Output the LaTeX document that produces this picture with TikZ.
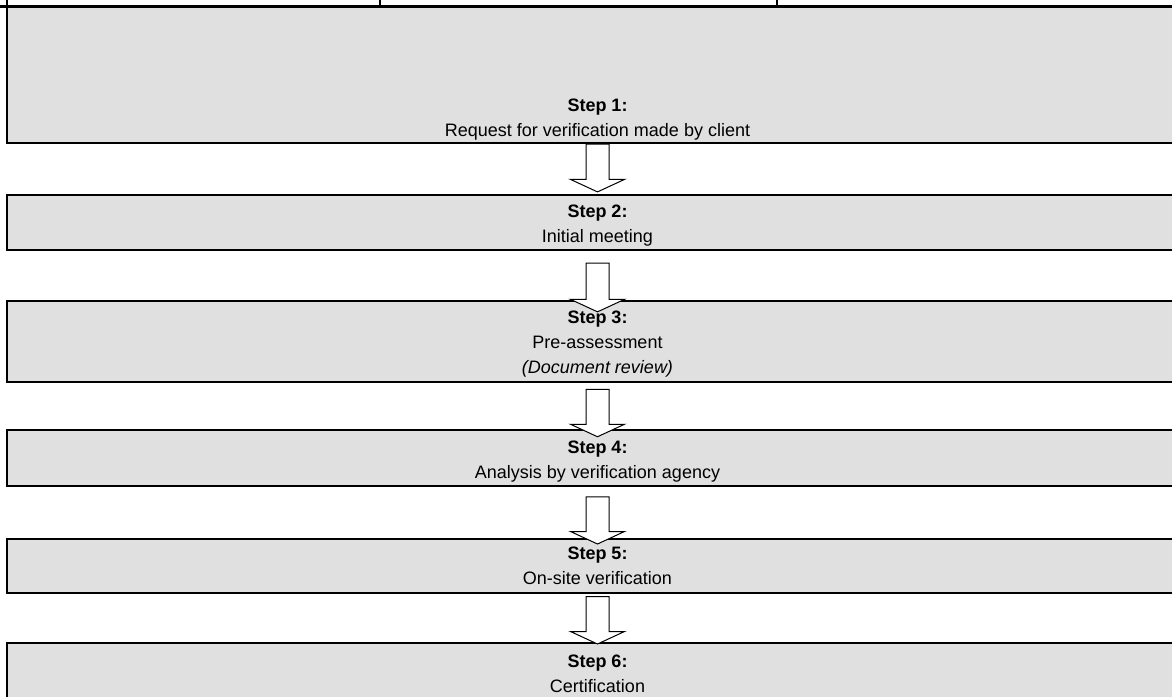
\documentclass[tikz,border=0pt]{standalone}
\usepackage{fontspec}
\setmainfont{Liberation Sans}
\usetikzlibrary{calc}
\definecolor{boxgray}{HTML}{E0E0E0}
\newcommand\blkarrow[2]{%
  \draw[barrow] ($(#1)+(-11.5,0)$) -- ($(#2)+(-11.5,-12.5)$) -- ($(#2)+(-27,-12.5)$)
    -- (#2) -- ($(#2)+(27,-12.5)$) -- ($(#2)+(11.5,-12.5)$) -- ($(#1)+(11.5,0)$) -- cycle;}
\begin{document}
\begin{tikzpicture}[x=1pt,y=-1pt,
  box/.style={draw=black,line width=2pt,fill=boxgray,rectangle,inner sep=0pt,outer sep=0pt,minimum width=1181pt},
  ln/.style={anchor=base,inner sep=0pt,font=\fontsize{18}{22}\selectfont},
  bl/.style={ln,font=\fontsize{18}{22}\selectfont\bfseries},
  barrow/.style={draw=black,line width=1pt,fill=white,line join=miter}]
\useasboundingbox (0,0) rectangle (1172,696);
\fill[white] (0,0) rectangle (1172,696);
% boxes
\node[box,minimum height=136.2pt] (s1) at (597.5,74.6) {};
\node[box,minimum height=54.4pt] (s2) at (597.5,222.5) {};
\node[box,minimum height=80.5pt] (s3) at (597.5,341.5) {};
\node[box,minimum height=55.7pt] (s4) at (597.5,458.2) {};
\node[box,minimum height=54pt] (s5) at (597.5,565.7) {};
\node[box,minimum height=58pt] (s6) at (597.5,671.7) {};
% table fragment on top
\coordinate (tl) at (0,6.5);
\coordinate (tr) at (1172,6.5);
\draw[line width=3pt] (tl) -- (tr);
\draw[line width=2pt] (s1.north west) -- ++(0,-7);
\draw[line width=2pt] (380,6.5) coordinate (v1) -- (380,0) coordinate (v1t);
\draw[line width=2pt] (776.5,6.5) coordinate (v2) -- (776.5,0) coordinate (v2t);
% arrows
\coordinate (a1s) at ($(s1.south)+(0,1.3)$);  \coordinate (a1e) at ($(s2.north)+(0,-3.4)$);
\coordinate (a2s) at ($(s2.south)+(0,13.3)$); \coordinate (a2e) at ($(s3.north)+(0,10.6)$);
\coordinate (a3s) at ($(s3.south)+(0,7.6)$);  \coordinate (a3e) at ($(s4.north)+(0,6.4)$);
\coordinate (a4s) at ($(s4.south)+(0,10.7)$); \coordinate (a4e) at ($(s5.north)+(0,5.3)$);
\coordinate (a5s) at ($(s5.south)+(0,4)$);    \coordinate (a5e) at ($(s6.north)+(0,1.3)$);
\blkarrow{a1s}{a1e}
\blkarrow{a2s}{a2e}
\blkarrow{a3s}{a3e}
\blkarrow{a4s}{a4e}
\blkarrow{a5s}{a5e}
% texts
\node[bl] (t1a) at (597.5,111) {Step 1:};
\node[ln] (t1b) at (597.5,136) {Request for verification made by client};
\node[bl] (t2a) at (597.5,217) {Step 2:};
\node[ln] (t2b) at (597.5,242) {Initial meeting};
\node[bl] (t3a) at (597.5,323) {Step 3:};
\node[ln] (t3b) at (597.5,348) {Pre-assessment};
\node[ln] (t3c) at (597.5,373) {\itshape (Document review)};
\node[bl] (t4a) at (597.5,453) {Step 4:};
\node[ln] (t4b) at (597.5,478) {Analysis by verification agency};
\node[bl] (t5a) at (597.5,559) {Step 5:};
\node[ln] (t5b) at (597.5,584) {On-site verification};
\node[bl] (t6a) at (597.5,667) {Step 6:};
\node[ln] (t6b) at (597.5,692) {Certification};
\end{tikzpicture}
\end{document}
